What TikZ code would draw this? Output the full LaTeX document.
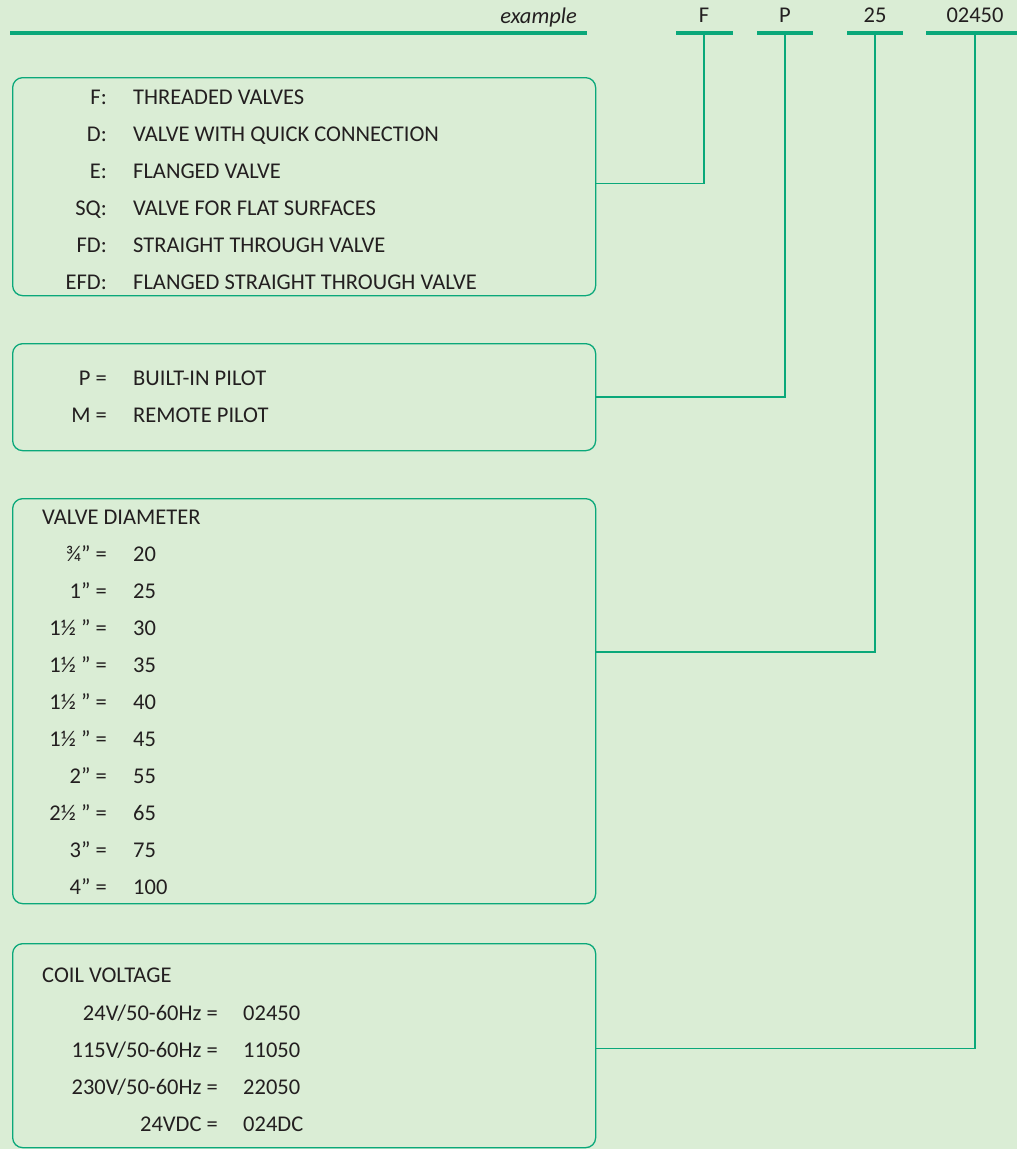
\documentclass[tikz,border=0pt]{standalone}
\usepackage{fontspec}
\setmainfont{Carlito}
\usepackage{xcolor}
\usetikzlibrary{positioning}
\definecolor{paper}{HTML}{DAEDD5}
\definecolor{brand}{HTML}{0AA87A}
\definecolor{ink}{HTML}{231F20}

\begin{document}
\begin{tikzpicture}[
    x=1pt, y=-1pt,
    txt/.style={font=\fontsize{22.5}{25}\selectfont, text=ink, inner sep=0pt},
    lab/.style={txt, anchor=base east},
    val/.style={txt, anchor=base west},
    bar/.style={fill=brand, draw=none, minimum height=4.5pt, inner sep=0pt},
    panel/.style={draw=brand, line width=1.3pt, rounded corners=10pt,
                  anchor=north west, minimum width=583pt, inner sep=0pt},
    link/.style={draw=brand, line width=1.4pt}
  ]
  % Background
  \fill[paper] (0,0) rectangle (1017,1149);
  \useasboundingbox (0,0) rectangle (1017,1149);

  % Header line and code fields
  \node[bar, minimum width=577pt, anchor=west] (bar0) at (10,33) {};
  \node[txt, anchor=base east] (ex) at (577,23) {\itshape example};

  \node[bar, minimum width=57pt] (barF) at (704,33) {};
  \node[bar, minimum width=56pt] (barP) at (785,33) {};
  \node[bar, minimum width=56pt] (barD) at (875,33) {};
  \node[bar, minimum width=98pt] (barV) at (975,33) {};
  \node[txt, above=8pt of barF] (codeF) {F};
  \node[txt, above=8pt of barP] (codeP) {P};
  \node[txt, above=8pt of barD] (codeD) {25};
  \node[txt, above=8pt of barV] (codeV) {02450};

  % Panels
  \node[panel, minimum height=218pt] (fam)  at (12,77)  {};
  \node[panel, minimum height=107pt] (pil)  at (12,343) {};
  \node[panel, minimum height=405pt] (dia)  at (12,498) {};
  \node[panel, minimum height=204pt] (volt) at (12,943) {};

  % Links from code fields to panels
  \draw[link] (barF.center) |- ([yshift=3pt]fam.east);
  \draw[link] (barP.center) |- (pil.east);
  \draw[link] (barD.center) |- ([yshift=49pt]dia.east);
  \draw[link] (barV.center) |- ([yshift=-3pt]volt.east);

  % Valve type
  \foreach \k/\d [count=\i from 0] in {F:/THREADED VALVES,
      D:/VALVE WITH QUICK CONNECTION, E:/FLANGED VALVE,
      SQ:/VALVE FOR FLAT SURFACES, FD:/STRAIGHT THROUGH VALVE,
      EFD:/FLANGED STRAIGHT THROUGH VALVE} {
    \node[lab] (famk\i) at (107,104+37*\i) {\k};
    \node[val] (famd\i) at (133,104+37*\i) {\d};
  }

  % Pilot
  \foreach \k/\d [count=\i from 0] in {P =/BUILT-IN PILOT, M =/REMOTE PILOT} {
    \node[lab] (pilk\i) at (107,385+37*\i) {\k};
    \node[val] (pild\i) at (133,385+37*\i) {\d};
  }

  % Valve diameter
  \node[val] (diah) at (42,524) {VALVE DIAMETER};
  \foreach \k/\d [count=\i from 0] in {{¾” =}/20, {1” =}/25, {1½ " =}/30,
      {1½ " =}/35, {1½ " =}/40, {1½ " =}/45, {2” =}/55, {2½ " =}/65,
      {3” =}/75, {4” =}/100} {
    \node[lab] (diak\i) at (107,561+37*\i) {\k};
    \node[val] (diad\i) at (133,561+37*\i) {\d};
  }

  % Coil voltage
  \node[val] (volth) at (42,982) {COIL VOLTAGE};
  \foreach \k/\d [count=\i from 0] in {{24V/50-60Hz =}/02450,
      {115V/50-60Hz =}/11050, {230V/50-60Hz =}/22050, {24VDC =}/024DC} {
    \node[lab] (voltk\i) at (218,1020+37*\i) {\k};
    \node[val] (voltd\i) at (243,1020+37*\i) {\d};
  }
\end{tikzpicture}
\end{document}
